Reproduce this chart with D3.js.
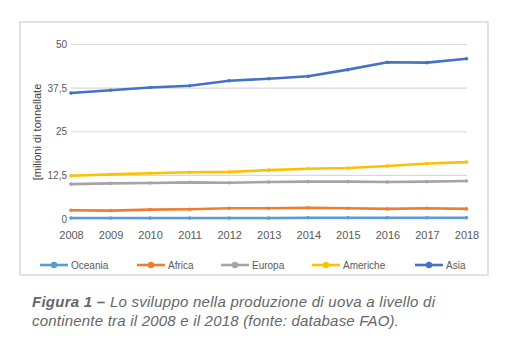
<!DOCTYPE html>
<html>
<head>
<meta charset="utf-8">
<script src="https://cdn.jsdelivr.net/npm/d3@7"></script>
<style>
  body { margin: 0; background: #fff; }
  svg { display: block; font-family: "Liberation Sans", Arial, sans-serif; }
</style>
</head>
<body>
<div id="chart"></div>
<script>
// anni e valori (milioni di tonnellate)
var years = [2008, 2009, 2010, 2011, 2012, 2013, 2014, 2015, 2016, 2017, 2018];
var oceania  = [0.3, 0.3, 0.3, 0.3, 0.3, 0.3, 0.35, 0.35, 0.35, 0.35, 0.35];
var africa   = [2.5, 2.4, 2.7, 2.8, 3.1, 3.1, 3.2, 3.1, 2.9, 3.1, 2.9];
var europa   = [10.0, 10.2, 10.3, 10.5, 10.4, 10.6, 10.7, 10.7, 10.6, 10.7, 10.9];
var americhe = [12.4, 12.8, 13.1, 13.4, 13.5, 14.0, 14.4, 14.6, 15.2, 15.9, 16.3];
var asia     = [36.1, 36.9, 37.7, 38.2, 39.6, 40.2, 40.9, 42.8, 44.9, 44.8, 45.9];
var seriesNames = ["Oceania", "Africa", "Europa", "Americhe", "Asia"];
var seriesColors = ["#5b9bd5", "#ed7d31", "#a5a5a5", "#ffc000", "#4472c4"];
var yTicks = [0, 12.5, 25, 37.5, 50];

var series = [oceania, africa, europa, americhe, asia].map(function(v, i) {
    return { name: seriesNames[i], color: seriesColors[i], values: v };
});

var w = 514, h = 350;

var svg = d3.select("#chart").append("svg")
    .attr("width", w)
    .attr("height", h);

// chart frame
svg.append("rect")
    .attr("x", 20).attr("y", 22)
    .attr("width", 468).attr("height", 253)
    .attr("fill", "#fff")
    .attr("stroke", "#d9d9d9")
    .attr("stroke-width", 1.5);

var x = d3.scaleLinear().domain([2008, 2018]).range([71, 466.5]);
var y = d3.scaleLinear().domain([0, 50]).range([219, 44.5]);

// gridlines
svg.append("g").selectAll("line")
    .data(yTicks)
    .enter().append("line")
    .attr("x1", 71).attr("x2", 467)
    .attr("y1", function(d) { return y(d); })
    .attr("y2", function(d) { return y(d); })
    .attr("stroke", "#d9d9d9")
    .attr("stroke-width", 1.2);

// y axis labels
var yAxis = d3.axisLeft(y).tickValues(yTicks).tickSize(0).tickPadding(4)
    .tickFormat(function(d) { return String(d).replace(".", ","); });
var gy = svg.append("g").attr("transform", "translate(67,0)").call(yAxis);
gy.select(".domain").remove();
gy.selectAll("text").attr("fill", "#595959").style("font-size", "10px")
    .attr("x", 0);

// x axis labels
var xAxis = d3.axisBottom(x).tickValues(years).tickSize(0).tickPadding(0)
    .tickFormat(d3.format("d"));
var gx = svg.append("g").attr("transform", "translate(0,231)").call(xAxis);
gx.select(".domain").remove();
gx.selectAll("text").attr("fill", "#595959").style("font-size", "11px");

// y axis title
svg.append("text")
    .attr("transform", "translate(41,132) rotate(-90)")
    .attr("text-anchor", "middle")
    .attr("fill", "#404040")
    .style("font-size", "11px")
    .text("[milioni di tonnellate");

// lines
var line = d3.line()
    .x(function(d, i) { return x(years[i]); })
    .y(function(d) { return y(d); });

var sg = svg.append("g").selectAll("g")
    .data(series)
    .enter().append("g");

sg.append("path")
    .attr("d", function(d) { return line(d.values); })
    .attr("fill", "none")
    .attr("stroke", function(d) { return d.color; })
    .attr("stroke-width", 2.6)
    .attr("stroke-linejoin", "round")
    .attr("stroke-linecap", "round");

sg.selectAll("circle")
    .data(function(d) { return d.values.map(function(v, i) { return { v: v, i: i, c: d.color }; }); })
    .enter().append("circle")
    .attr("cx", function(d) { return x(years[d.i]); })
    .attr("cy", function(d) { return y(d.v); })
    .attr("r", 1.8)
    .attr("fill", function(d) { return d.c; });

// legend
var legendX = [40, 137, 221, 312, 415];
var lg = svg.append("g").selectAll("g")
    .data(series)
    .enter().append("g")
    .attr("transform", function(d, i) { return "translate(" + legendX[i] + ",265)"; });

lg.append("line")
    .attr("x1", 0).attr("x2", 28)
    .attr("stroke", function(d) { return d.color; })
    .attr("stroke-width", 2.6);
lg.append("circle")
    .attr("cx", 14).attr("r", 3.2)
    .attr("fill", function(d) { return d.color; });
lg.append("text")
    .attr("x", 31).attr("y", 3.5)
    .attr("fill", "#595959")
    .style("font-size", "10px")
    .text(function(d) { return d.name; });

// caption
var cap1 = svg.append("text")
    .attr("x", 32).attr("y", 307)
    .attr("fill", "#666")
    .attr("textLength", 403)
    .attr("lengthAdjust", "spacing")
    .style("font-size", "15px")
    .style("font-style", "italic");
cap1.append("tspan").style("font-weight", "bold").text("Figura 1 –");
cap1.append("tspan").text(" Lo sviluppo nella produzione di uova a livello di");

svg.append("text")
    .attr("x", 32).attr("y", 326)
    .attr("fill", "#666")
    .attr("textLength", 367)
    .attr("lengthAdjust", "spacing")
    .style("font-size", "15px")
    .style("font-style", "italic")
    .text("continente tra il 2008 e il 2018 (fonte: database FAO).");
</script>
</body>
</html>
